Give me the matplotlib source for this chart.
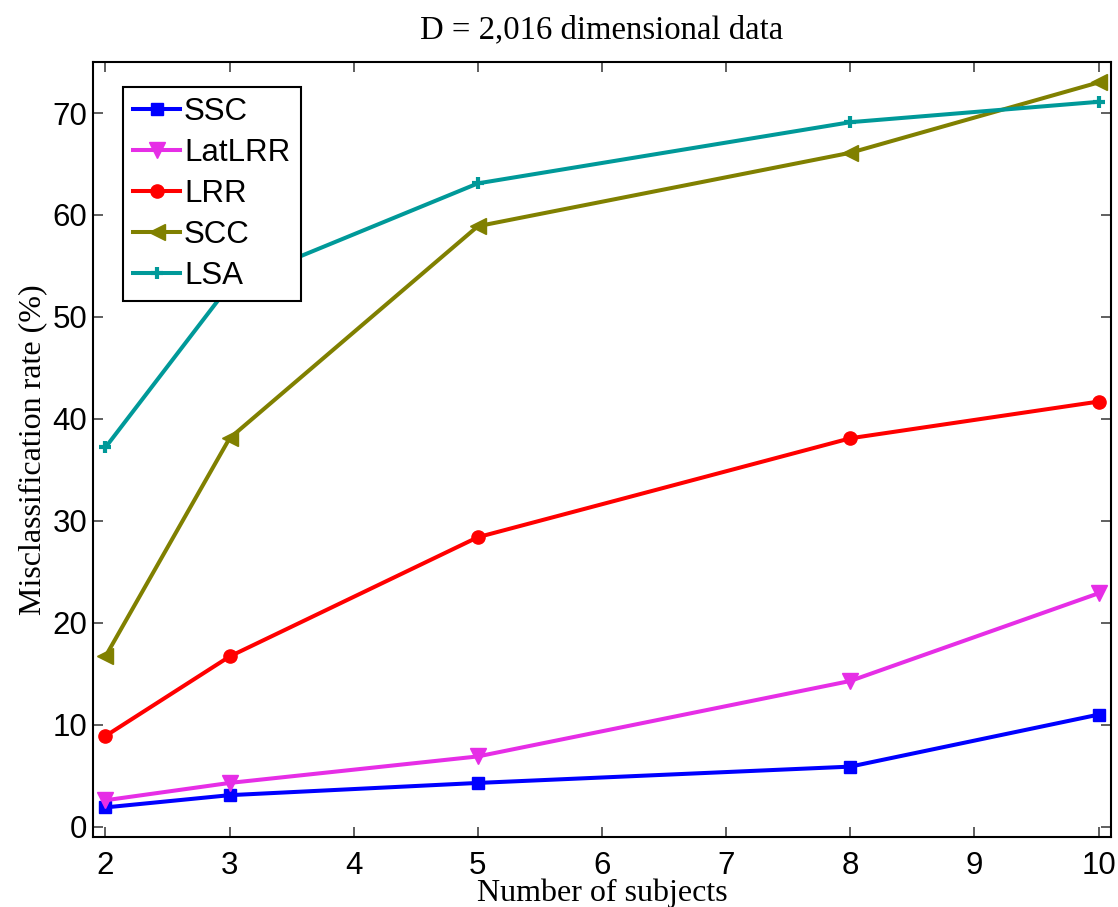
import matplotlib
matplotlib.use("Agg")
import matplotlib.pyplot as plt

# Number of subjects on the x axis
subjects = [2, 3, 5, 8, 10]

# Misclassification rate (%) per method
ssc = [1.9, 3.1, 4.3, 5.9, 11.0]
latlrr = [2.6, 4.3, 6.9, 14.3, 22.9]
lrr = [8.9, 16.7, 28.4, 38.1, 41.7]
scc = [16.7, 38.1, 58.9, 66.1, 73.0]
lsa = [37.2, 53.1, 63.1, 69.1, 71.1]

x_ticks = [2, 3, 4, 5, 6, 7, 8, 9, 10]
y_ticks = [0, 10, 20, 30, 40, 50, 60, 70]

sans = "Liberation Sans"
serif = "Liberation Serif"

fig = plt.figure(figsize=(11.18, 9.07), dpi=100)
ax = fig.add_axes([0.0832, 0.0772, 0.9937 - 0.0832, 0.9316 - 0.0772])

lw = 2.9
ax.plot(subjects, ssc, color="#0000ff", lw=lw, marker="s", ms=8.5, label="SSC")
ax.plot(subjects, latlrr, color="#e62ee6", lw=lw, marker="v", ms=11, label="LatLRR")
ax.plot(subjects, lrr, color="#ff0000", lw=lw, marker="o", ms=9.5, label="LRR")
ax.plot(subjects, scc, color="#808000", lw=lw, marker="<", ms=12, label="SCC")
ax.plot(subjects, lsa, color="#009999", lw=lw, marker="+", ms=9, mew=3, label="LSA")

ax.set_xlim(1.9, 10.1)
ax.set_ylim(-1, 75)
ax.set_xticks(x_ticks)
ax.set_yticks(y_ticks)

ax.tick_params(direction="in", length=7, width=1.2, color="#444444",
               top=True, right=True, labelsize=22.5)
ax.tick_params(axis="x", pad=10)
ax.tick_params(axis="y", pad=4)
for lab in ax.get_xticklabels() + ax.get_yticklabels():
    lab.set_fontfamily(sans)
for sp in ax.spines.values():
    sp.set_linewidth(1.5)
    sp.set_color("black")

ax.set_title("D = 2,016 dimensional data", family=serif, fontsize=23.6, pad=17)
ax.set_xlabel("Number of subjects", family=serif, fontsize=23, labelpad=-2)
ax.set_ylabel("Misclassification rate (%)", family=serif, fontsize=23, labelpad=4)

leg = ax.legend(loc="upper left", bbox_to_anchor=(0.0295, 0.968),
                prop={"family": sans, "size": 22.5}, frameon=True, fancybox=False,
                edgecolor="black", framealpha=1, borderpad=0.33, labelspacing=0.35,
                handlelength=1.5, handletextpad=0.12, borderaxespad=0)
leg.get_frame().set_linewidth(1.5)

fig.savefig("out.png", dpi=100)
